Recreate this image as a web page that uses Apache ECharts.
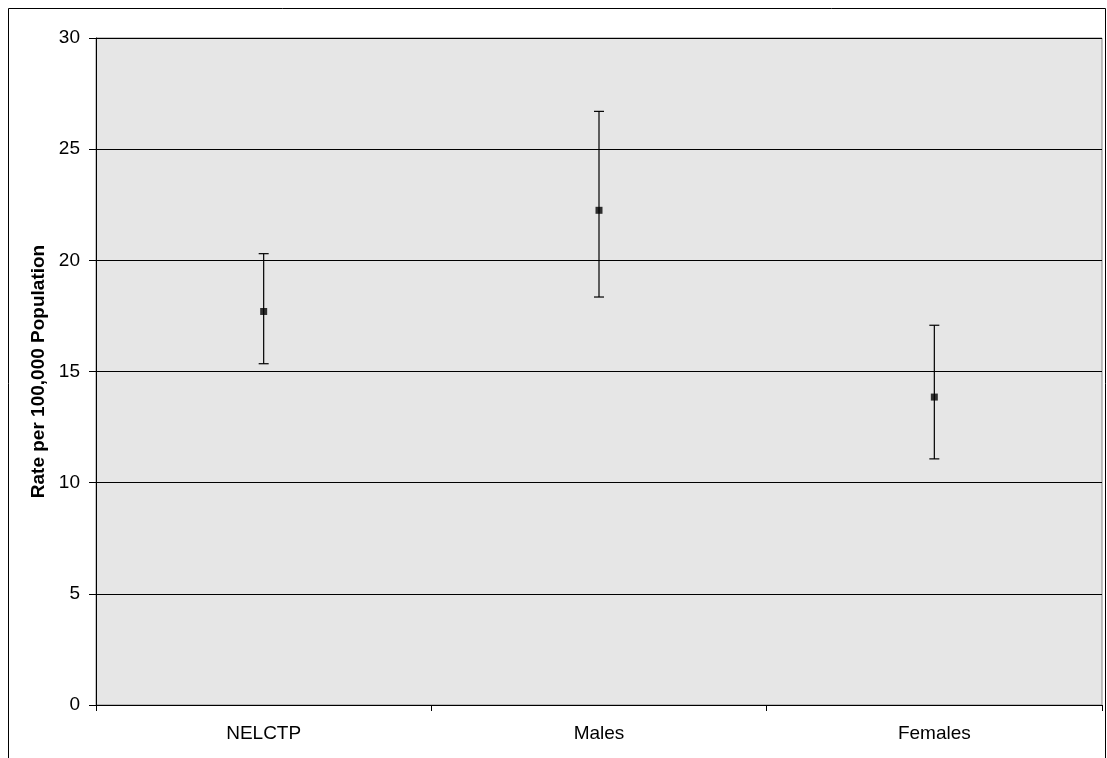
<!DOCTYPE html>
<html>
<head>
<meta charset="utf-8">
<script src="https://cdn.jsdelivr.net/npm/echarts@6/dist/echarts.min.js"></script>
<style>
  html, body { margin: 0; padding: 0; background: #fff; }
  #main { width: 1107px; height: 758px; }
</style>
</head>
<body>
<div id="main"></div>
<script>
// 数据
var categories = ['NELCTP', 'Males', 'Females'];
var rates = [17.7, 22.25, 13.85];
var lowerCI = [15.35, 18.35, 11.07];
var upperCI = [20.3, 26.7, 17.08];
var yTicks = [0, 5, 10, 15, 20, 25, 30];

(function () {
  var myChart = echarts.init(document.getElementById('main'));

  var errData = categories.map(function (c, i) {
    return [i, lowerCI[i], upperCI[i]];
  });

  var option = {
    backgroundColor: '#fff',
    animation: false,
    textStyle: { fontFamily: 'Liberation Sans, Arial, sans-serif' },
    graphic: [{
      type: 'rect',
      shape: { x: 8.5, y: 8.5, width: 1097, height: 780 },
      style: { fill: 'none', stroke: '#000', lineWidth: 1 },
      silent: true
    }],
    grid: {
      left: 96, right: 5, top: 38, bottom: 53,
      show: true,
      backgroundColor: '#e6e6e6',
      borderColor: '#888',
      borderWidth: 1
    },
    xAxis: {
      type: 'category',
      data: categories,
      boundaryGap: true,
      axisLine: { lineStyle: { color: '#000', width: 1 } },
      axisTick: { show: true, length: 6, alignWithLabel: false, lineStyle: { color: '#000' } },
      axisLabel: { color: '#000', fontSize: 19, margin: 19 }
    },
    yAxis: {
      type: 'value',
      min: yTicks[0],
      max: yTicks[yTicks.length - 1],
      interval: 5,
      name: 'Rate per 100,000 Population',
      nameLocation: 'middle',
      nameGap: 47,
      nameTextStyle: { color: '#000', fontSize: 19, fontWeight: 'bold' },
      axisLine: { show: true, lineStyle: { color: '#000', width: 1 } },
      axisTick: { show: true, length: 7, lineStyle: { color: '#000' } },
      axisLabel: { color: '#000', fontSize: 19, margin: 16 },
      splitLine: { show: true, lineStyle: { color: '#000', width: 1 } }
    },
    series: [
      {
        type: 'custom',
        data: errData,
        z: 3,
        renderItem: function (params, api) {
          var x = api.value(0);
          var lo = api.coord([x, api.value(1)]);
          var hi = api.coord([x, api.value(2)]);
          var hw = 5;
          var st = { stroke: '#000', lineWidth: 1.2 };
          return {
            type: 'group',
            children: [
              { type: 'line', shape: { x1: hi[0], y1: hi[1], x2: lo[0], y2: lo[1] }, style: st },
              { type: 'line', shape: { x1: hi[0] - hw, y1: hi[1], x2: hi[0] + hw, y2: hi[1] }, style: st },
              { type: 'line', shape: { x1: lo[0] - hw, y1: lo[1], x2: lo[0] + hw, y2: lo[1] }, style: st }
            ]
          };
        }
      },
      {
        type: 'scatter',
        data: rates,
        symbol: 'rect',
        symbolSize: 7,
        z: 4,
        itemStyle: { color: '#000' }
      }
    ]
  };

  myChart.setOption(option);
  window.addEventListener('resize', myChart.resize);
})();
</script>
</body>
</html>
